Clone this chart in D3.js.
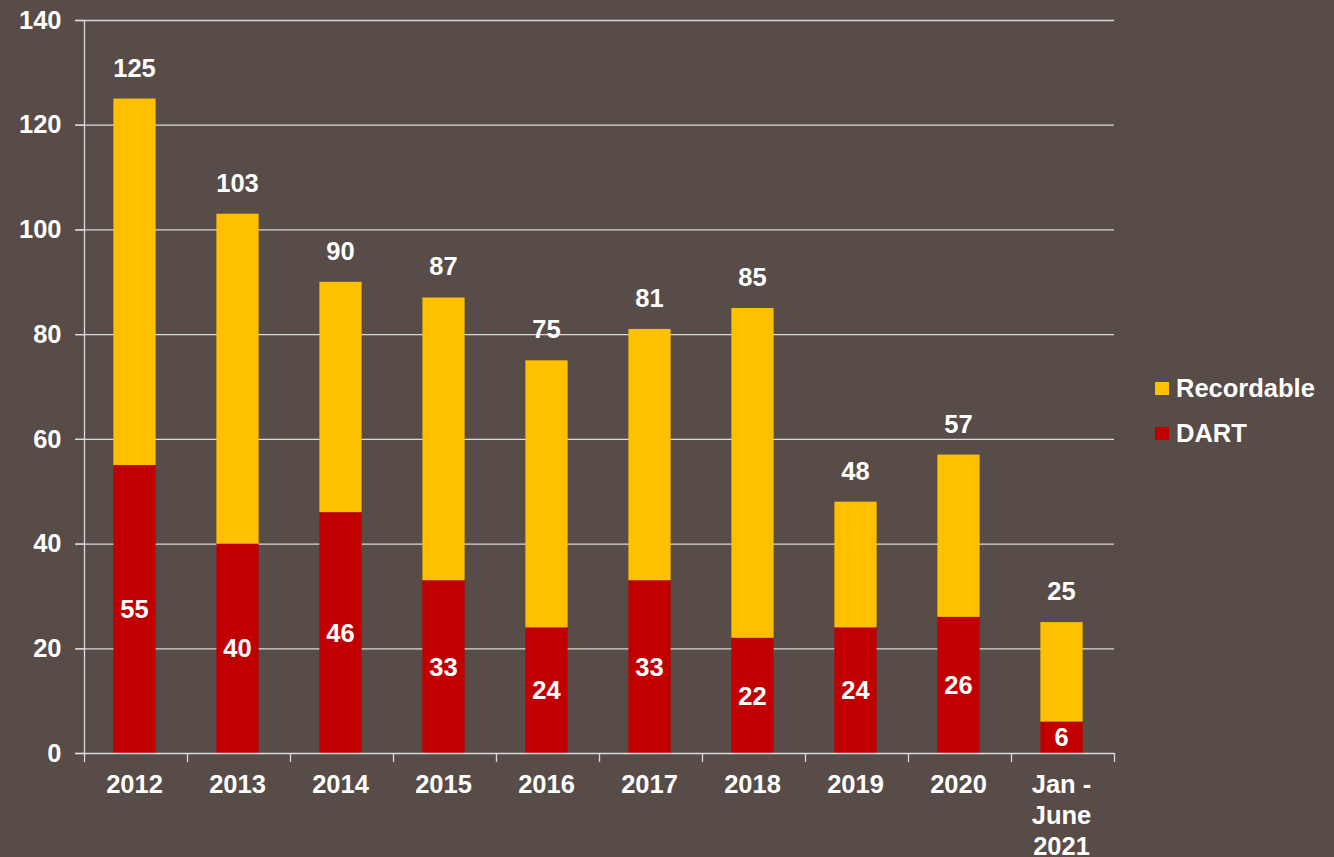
<!DOCTYPE html>
<html>
<head>
<meta charset="utf-8">
<script src="https://cdn.jsdelivr.net/npm/d3@7"></script>
<style>
  html, body { margin: 0; padding: 0; background: #574c48; }
  svg { display: block; }
  text { font-family: "Liberation Sans", Arial, sans-serif; font-weight: bold; fill: #ffffff; }
</style>
</head>
<body>
<div id="chart"></div>
<script>
// categories and series
const categories = ["2012", "2013", "2014", "2015", "2016", "2017", "2018", "2019", "2020", "Jan - June 2021"];
const dart = [55, 40, 46, 33, 24, 33, 22, 24, 26, 6];
const recordable = [70, 63, 44, 54, 51, 48, 63, 24, 31, 19];
const yTicks = [0, 20, 40, 60, 80, 100, 120, 140];

const width = 1334, height = 857;
const colors = { Recordable: "#ffc000", DART: "#c00000" };
const fontSize = "25.5px";

const svg = d3.select("#chart").append("svg")
  .attr("width", width)
  .attr("height", height);

const x = d3.scaleBand().domain(categories).range([83, 1113]).paddingInner(0.59).paddingOuter(0.295);
const y = d3.scaleLinear().domain([0, 140]).range([753, 20]);

// gridlines
svg.append("g")
  .selectAll("line")
  .data(yTicks.filter(d => d > 0))
  .join("line")
  .attr("x1", 75).attr("x2", 1114)
  .attr("y1", d => y(d) + 0.5).attr("y2", d => y(d) + 0.5)
  .attr("stroke", "#d9d9d9").attr("stroke-width", 1.3);

// stacked bars
const rows = categories.map((c, i) => ({ cat: c, DART: dart[i], Recordable: recordable[i] }));
const stack = d3.stack().keys(["DART", "Recordable"])(rows);

svg.append("g")
  .selectAll("g")
  .data(stack)
  .join("g")
  .attr("fill", d => colors[d.key])
  .selectAll("rect")
  .data(d => d)
  .join("rect")
  .attr("x", d => x(d.data.cat))
  .attr("width", x.bandwidth())
  .attr("y", d => y(d[1]))
  .attr("height", d => y(d[0]) - y(d[1]));

// y axis
const yAxis = svg.append("g")
  .attr("transform", "translate(84.5,0)")
  .call(d3.axisLeft(y).tickValues(yTicks).tickSize(9).tickPadding(14));
yAxis.select(".domain").attr("stroke", "#d9d9d9").attr("stroke-width", 1.3).attr("d", "M0,20V753");
yAxis.selectAll(".tick line").attr("stroke", "#d9d9d9").attr("stroke-width", 1.3);
yAxis.selectAll(".tick text").attr("fill", "#fff").style("font-size", fontSize)
  .style("font-family", "'Liberation Sans', Arial, sans-serif").style("font-weight", "bold");

// x axis
const step = x.step();
const boundaries = categories.map((c, i) => 84 + i * step).concat([1114]);
const xAxis = svg.append("g").attr("transform", "translate(0,753)");
xAxis.append("line").attr("x1", 75).attr("x2", 1114).attr("y1", 0.5).attr("y2", 0.5)
  .attr("stroke", "#d9d9d9").attr("stroke-width", 1.3);
xAxis.selectAll(".bt")
  .data(boundaries)
  .join("line")
  .attr("class", "bt")
  .attr("x1", d => d + 0.5).attr("x2", d => d + 0.5)
  .attr("y1", 0).attr("y2", 9)
  .attr("stroke", "#d9d9d9").attr("stroke-width", 1.3);

const xLabels = xAxis.selectAll(".xl")
  .data(categories)
  .join("text")
  .attr("class", "xl")
  .attr("text-anchor", "middle")
  .style("font-size", fontSize)
  .attr("transform", d => `translate(${x(d) + x.bandwidth() / 2},0)`);
xLabels.each(function (d) {
  const parts = d === "Jan - June 2021" ? ["Jan -", "June", "2021"] : [d];
  d3.select(this).selectAll("tspan")
    .data(parts)
    .join("tspan")
    .attr("x", 0)
    .attr("y", (p, i) => 40 + i * 31)
    .text(p => p);
});

// total labels above bars
svg.append("g")
  .selectAll("text")
  .data(rows)
  .join("text")
  .attr("x", d => x(d.cat) + x.bandwidth() / 2)
  .attr("y", d => y(d.DART + d.Recordable) - 22)
  .attr("text-anchor", "middle")
  .style("font-size", fontSize)
  .text(d => d.DART + d.Recordable);

// DART labels inside red segment
svg.append("g")
  .selectAll("text")
  .data(rows)
  .join("text")
  .attr("x", d => x(d.cat) + x.bandwidth() / 2)
  .attr("y", d => y(d.DART / 2))
  .attr("dy", "0.36em")
  .attr("text-anchor", "middle")
  .style("font-size", fontSize)
  .text(d => d.DART);

// legend
const legend = svg.append("g").attr("transform", "translate(1155,382)");
["Recordable", "DART"].forEach((k, i) => {
  const g = legend.append("g").attr("transform", `translate(0,${i * 45})`);
  g.append("rect").attr("width", 14).attr("height", 13).attr("fill", colors[k]);
  g.append("text").attr("x", 21).attr("y", 15).style("font-size", fontSize).text(k);
});
</script>
</body>
</html>
